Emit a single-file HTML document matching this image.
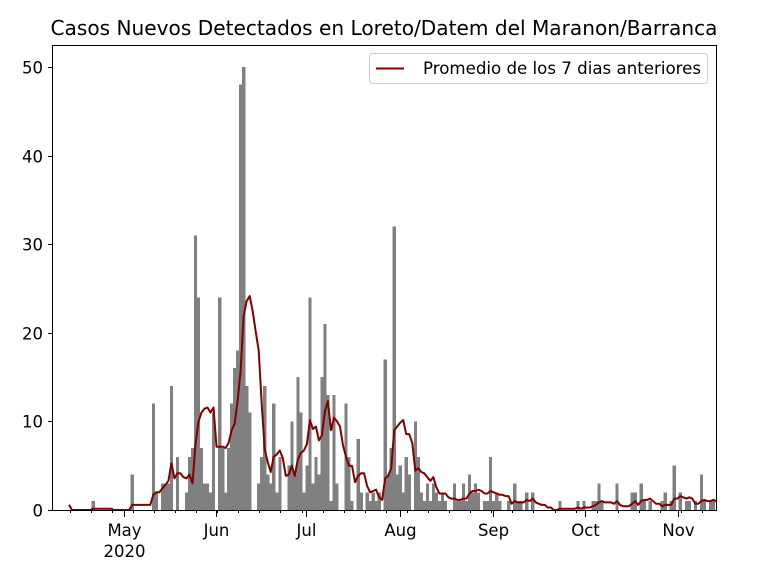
<!DOCTYPE html>
<html><head><meta charset="utf-8"><style>
html,body{margin:0;padding:0;background:#fff;}
svg{display:block;font-family:"DejaVu Sans","Liberation Sans",sans-serif;}
</style></head><body>
<svg id="s" width="768" height="576" xmlns="http://www.w3.org/2000/svg">
<rect width="768" height="576" fill="#fff"/>
<g id="bars" fill="#808080" shape-rendering="crispEdges"></g>
<polyline id="ln" fill="none" stroke="#800000" stroke-width="2" stroke-linejoin="round"/>
<g id="ax" stroke="#000" stroke-width="1" fill="none">
<rect x="52.5" y="45.5" width="664" height="465"/>
</g>
<g id="tk" stroke="#000" stroke-width="1"></g>
<g id="lb" font-size="16.5" fill="#000"></g>
<text x="384" y="35" text-anchor="middle" font-size="20" textLength="667" lengthAdjust="spacingAndGlyphs">Casos Nuevos Detectados en Loreto/Datem del Maranon/Barranca</text>
<rect x="369.5" y="53.5" width="338" height="30" rx="3" fill="#fff" fill-opacity="0.8" stroke="#ccc"/>
<line x1="376" y1="68.5" x2="404" y2="68.5" stroke="#800000" stroke-width="2"/>
<text x="423" y="74" font-size="16.5" textLength="278" lengthAdjust="spacingAndGlyphs">Promedio de los 7 dias anteriores</text>
</svg>
<script>
var P=[[93,1],[132,4],[153,12],[157,2],[161,3],[164,3],[167,3],[171,14],[177,6],[186,2],[189,6],[192,7],[195,31],[198,24],[202,7],[205,3],[208,3],[211,2],[215,11],[219,24],[222,7],[225,2],[228,7],[231,12],[234,16],[237,18],[240,48],[243,50],[246,14],[249,11],[260,3],[263,6],[265,14],[268,4],[271,3],[274,12],[277,2],[280,6],[290,5],[292,10],[295,4],[298,15],[301,11],[304,2],[307,5],[310,24],[313,3],[316,6],[319,4],[322,15],[325,21],[328,13],[331,1],[334,13],[337,3],[346,12],[349,6],[352,1],[358,8],[361,2],[366,2],[369,1],[372,2],[376,1],[379,2],[385,17],[388,4],[391,7],[394,32],[397,4],[400,5],[403,2],[406,6],[409,4],[414,10],[417,6],[422,2],[425,1],[428,3],[431,1],[434,3],[437,2],[440,1],[443,2],[446,1],[455,3],[458,1],[461,1],[464,3],[467,1],[470,4],[473,2],[476,3],[479,2],[485,1],[488,1],[490,6],[493,1],[496,2],[499,1],[508,1],[514,3],[517,1],[520,1],[526,2],[532,2],[559,1],[577,1],[583,1],[593,1],[596,1],[599,3],[602,1],[617,3],[632,2],[635,2],[641,3],[644,1],[650,1],[662,1],[665,2],[671,1],[674,5],[680,2],[686,1],[689,1],[695,1],[701,4],[704,1],[710,1],[713,1]];
var d=3.011,x0=69,N=Math.round((716-x0)/d)+1,v=new Array(N).fill(0);
P.forEach(function(p){var i=Math.round((p[0]-x0)/d);if(i>=0&&i<N)v[i]=p[1];});
var ns="http://www.w3.org/2000/svg",Y=function(t){return 510-t*8.86;};
var g=document.getElementById('bars');
for(var i=0;i<N;i++){if(!v[i])continue;var x=x0+i*d-1.5,w=3.2;if(x+w>716)w=716-x;
var r=document.createElementNS(ns,'rect');r.setAttribute('x',x);r.setAttribute('y',Y(v[i]));r.setAttribute('width',w);r.setAttribute('height',v[i]*8.86);g.appendChild(r);}
var pts=[];for(var i=0;i<N;i++){var s=0;for(var k=i-6;k<=i;k++)if(k>=0)s+=v[k];var x=x0+i*d;if(x>716)x=716;pts.push(x.toFixed(1)+','+Y(s/7).toFixed(1));}
pts[0]=x0+','+Y(0.6);
document.getElementById('ln').setAttribute('points',pts.join(' '));
var tk=document.getElementById('tk'),lb=document.getElementById('lb');
function L(x1,y1,x2,y2){var l=document.createElementNS(ns,'line');l.setAttribute('x1',x1);l.setAttribute('y1',y1);l.setAttribute('x2',x2);l.setAttribute('y2',y2);tk.appendChild(l);}
function T(x,y,s,a){var t=document.createElementNS(ns,'text');t.setAttribute('x',x);t.setAttribute('y',y);t.setAttribute('text-anchor',a);t.textContent=s;lb.appendChild(t);}
for(var k=0;k<=50;k+=10){var y=Math.round(Y(k))+0.5;L(48,y,52,y);T(43,y+6,String(k),'end');}
var M=[[124,'May'],[216,'Jun'],[306,'Jul'],[400,'Aug'],[493,'Sep'],[585,'Oct'],[678,'Nov']];
M.forEach(function(m){var x=Math.round(m[0])+0.5;L(x,510,x,517);T(x,536,m[1],'middle');});
T(124.5,557,'2020','middle');
for(var x=154-21.08*4;x<716;x+=21.08){if(x<52)continue;var xx=Math.round(x)+0.5;L(xx,510,xx,513);}
</script>
</body></html>
